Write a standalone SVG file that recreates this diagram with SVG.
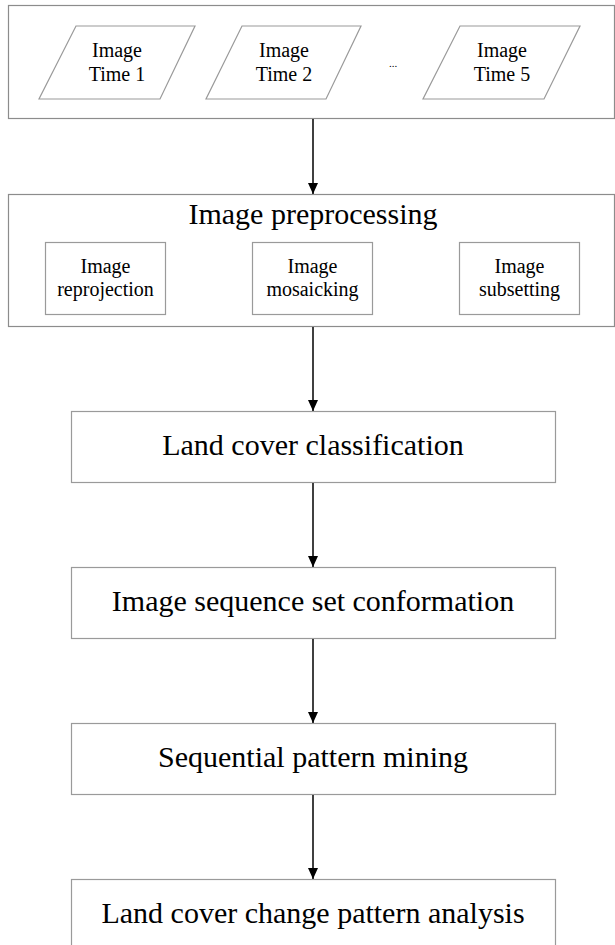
<svg xmlns="http://www.w3.org/2000/svg" width="615" height="945" viewBox="0 0 615 945">
  <style>
    .frame { fill: #ffffff; stroke: #8c8c8c; stroke-width: 1.2; }
    .box { fill: #ffffff; stroke: #9a9a9a; stroke-width: 1.2; }
    .txt { font-family: "Liberation Serif", "Times New Roman", serif; fill: #000000; text-anchor: middle; }
    .small { font-size: 20px; }
    .big { font-size: 30px; }
    .flow { stroke: #000000; stroke-width: 1.5; fill: none; marker-end: url(#head); }
  </style>
  <defs>
    <marker id="head" viewBox="0 0 11 10" refX="11" refY="5" markerWidth="11" markerHeight="10" markerUnits="userSpaceOnUse" orient="auto">
      <path d="M0,0 L11,5 L0,10 Z" fill="#000000"/>
    </marker>
  </defs>
  <rect width="615" height="945" fill="#ffffff"/>

  <!-- Input images -->
  <g id="inputs">
    <rect class="frame" x="8.5" y="5.5" width="606" height="113"/>
    <g id="time1">
      <polygon class="box" points="76,26 195,26 160,99 39,99"/>
      <text class="txt small" x="117" y="57">Image</text>
      <text class="txt small" x="117" y="81">Time 1</text>
    </g>
    <g id="time2">
      <polygon class="box" points="242,26 361,26 326,99 206,99"/>
      <text class="txt small" x="284" y="57">Image</text>
      <text class="txt small" x="284" y="81">Time 2</text>
    </g>
    <text class="txt" x="393" y="67" font-size="11" fill="#555555">...</text>
    <g id="time5">
      <polygon class="box" points="460,26 580,26 544,99 423,99"/>
      <text class="txt small" x="502" y="57">Image</text>
      <text class="txt small" x="502" y="81">Time 5</text>
    </g>
  </g>

  <!-- Preprocessing -->
  <g id="preprocessing">
    <rect class="frame" x="8.5" y="194.5" width="606" height="132"/>
    <text class="txt big" x="313" y="224">Image preprocessing</text>
    <g id="reprojection">
      <rect class="box" x="45.5" y="242.5" width="120" height="72"/>
      <text class="txt small" x="105.5" y="273">Image</text>
      <text class="txt small" x="105.5" y="296">reprojection</text>
    </g>
    <g id="mosaicking">
      <rect class="box" x="252.5" y="242.5" width="120" height="72"/>
      <text class="txt small" x="312.5" y="273">Image</text>
      <text class="txt small" x="312.5" y="296">mosaicking</text>
    </g>
    <g id="subsetting">
      <rect class="box" x="459.5" y="242.5" width="120" height="72"/>
      <text class="txt small" x="519.5" y="273">Image</text>
      <text class="txt small" x="519.5" y="296">subsetting</text>
    </g>
  </g>

  <g id="classification">
    <rect class="box" x="71.5" y="411.5" width="484" height="71"/>
    <text class="txt big" x="313" y="455">Land cover classification</text>
  </g>
  <g id="conformation">
    <rect class="box" x="71.5" y="567.5" width="484" height="71"/>
    <text class="txt big" x="313" y="611">Image sequence set conformation</text>
  </g>
  <g id="mining">
    <rect class="box" x="71.5" y="723.5" width="484" height="71"/>
    <text class="txt big" x="313" y="767">Sequential pattern mining</text>
  </g>
  <g id="analysis">
    <rect class="box" x="71.5" y="879.5" width="484" height="80"/>
    <text class="txt big" x="313" y="923">Land cover change pattern analysis</text>
  </g>

  <!-- Connectors -->
  <g id="connectors">
    <line class="flow" x1="313" y1="119" x2="313" y2="194"/>
    <line class="flow" x1="313" y1="327" x2="313" y2="411"/>
    <line class="flow" x1="313" y1="483" x2="313" y2="567"/>
    <line class="flow" x1="313" y1="639" x2="313" y2="723"/>
    <line class="flow" x1="313" y1="795" x2="313" y2="879"/>
  </g>
</svg>
